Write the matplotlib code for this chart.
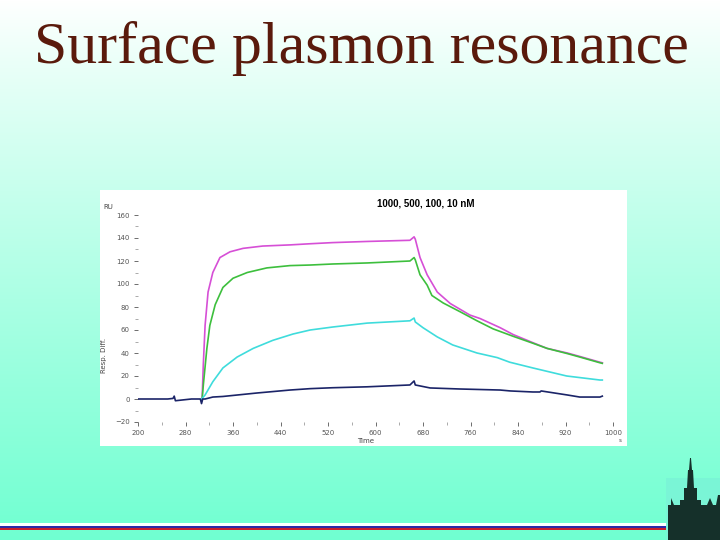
import numpy as np
import matplotlib.pyplot as plt
from matplotlib.patches import Rectangle, Polygon

W, H = 720, 540

# sensorgram curves (time, RU)
t_1000 = [308, 310, 313, 318, 326, 338, 355, 377, 410, 456, 490, 528, 586, 658, 665,
          667, 675, 687, 704, 726, 759, 776, 810, 832, 865, 889, 923, 944, 978, 982]
ru_1000 = [0, 30, 64, 93, 110, 123, 128, 131, 133, 134, 135, 136, 137, 138, 141,
           139, 123, 108, 93, 83, 73, 70, 62, 56, 49, 44, 40, 37, 32, 31.5]

t_500 = [308, 310, 316, 321, 330, 343, 360, 384, 417, 456, 490, 528, 586, 658, 665,
         667, 675, 687, 695, 714, 742, 771, 798, 832, 865, 889, 923, 944, 978, 982]
ru_500 = [0, 12, 44, 64, 82, 97, 105, 110, 114, 116, 116.5, 117.4, 118.3, 120, 123,
          121, 108, 99, 90, 83.5, 76, 68, 61, 54.5, 48.5, 44, 39.5, 36.5, 31.5, 31]

t_100 = [307, 313, 326, 343, 367, 394, 427, 461, 490, 528, 586, 658, 665, 667, 680,
         704, 730, 771, 805, 826, 865, 922, 978, 982]
ru_100 = [0, 3.5, 15, 27, 36.5, 44, 51, 56.5, 60, 62.6, 66, 68, 70.4, 67, 62,
          54, 47, 40, 36, 32, 27, 20, 16.5, 16.5]

t_10 = [200, 250, 259, 261, 263, 290, 305, 307, 309, 313, 326, 343, 400, 456, 490,
        528, 586, 658, 665, 667, 692, 742, 810, 827, 865, 877, 879, 923, 944, 978, 982]
ru_10 = [0, 0, 0.5, 2.5, -1.5, 0, 0, -4, 0, 0, 1.7, 2.2, 5.2, 7.8, 9.0,
         9.8, 10.6, 12.2, 15.7, 12.2, 9.6, 8.7, 7.8, 7.0, 6.1, 6.1, 7.0, 3.5, 1.7, 1.7, 2.5]

curves = [(t_1000, ru_1000, '#d64fd6'), (t_500, ru_500, '#3dbf3d'),
          (t_100, ru_100, '#3fdcdc'), (t_10, ru_10, '#1b2468')]

y_ticks = list(range(-20, 161, 20))
x_ticks = list(range(200, 1001, 80))


def fx(px):
    return px / W


def fy(py):
    return 1 - py / H


fig = plt.figure(figsize=(7.2, 5.4), dpi=100)

# slide background: white at top to aquamarine at bottom
bg = fig.add_axes([0, 0, 1, 1])
g = np.linspace(0, 1, 300)[:, None, None]
top = np.array([1.0, 1.0, 1.0])
bot = np.array([0.44, 1.0, 0.82])
img = top + (bot - top) * g ** 0.9
bg.imshow(img, aspect='auto', extent=[0, 1, 0, 1], origin='upper')
bg.set_xlim(0, 1)
bg.set_ylim(0, 1)
bg.axis('off')

# flag stripes at the bottom
bg.add_patch(Rectangle((0, fy(526)), fx(668), 3 / H, color='white', lw=0))
bg.add_patch(Rectangle((0, fy(528)), fx(668), 2 / H, color='#2a2aa8', lw=0))
bg.add_patch(Rectangle((0, fy(530)), fx(668), 2 / H, color='#c81e2a', lw=0))

# university building logo (rough silhouette)
bg.add_patch(Rectangle((fx(666), 0), fx(54), fy(478), color='#7af5d6', lw=0))
sil = [(668, 540), (668, 505), (671, 505), (671, 498), (674, 505), (680, 505), (680, 500),
       (684, 500), (684, 488), (687, 488), (688, 470), (689, 470), (690, 458), (691, 458),
       (692, 470), (693, 470), (694, 488), (697, 488), (697, 500), (701, 500), (701, 505),
       (707, 505), (710, 498), (713, 505), (716, 505), (718, 495), (720, 495), (720, 540)]
bg.add_patch(Polygon([(fx(a), fy(b)) for a, b in sil], closed=True, color='#15302a', lw=0))

# white panel behind the chart
bg.add_patch(Rectangle((fx(100), fy(446)), fx(527), 256 / H, color='white', lw=0))

fig.text(fx(361), fy(63), 'Surface plasmon resonance', family='Liberation Serif',
         fontsize=43, color='#5a1a0c', ha='center', va='baseline')

ax = fig.add_axes([fx(138), fy(422), fx(475), 207 / H])
ax.patch.set_alpha(0)
for t, r, c in curves:
    ax.plot(t, r, color=c, lw=1.2)
ax.set_xlim(200, 1000)
ax.set_ylim(-20, 160)
for s in ax.spines.values():
    s.set_visible(False)
ax.set_xticks(x_ticks)
ax.set_yticks(y_ticks)
ax.set_xticks(list(range(240, 1000, 80)), minor=True)
ax.set_yticks(list(range(-10, 160, 20)), minor=True)
ax.tick_params(labelsize=5, colors='#555555', length=3, width=0.6, pad=3)
ax.tick_params(which='minor', length=2, width=0.5, colors='#888888')

fig.text(fx(103), fy(207), 'RU', fontsize=5, color='#444444', ha='left', va='center')
fig.text(fx(104), fy(355), 'Resp. Diff.', fontsize=5, color='#444444', rotation=90,
         ha='center', va='center')
fig.text(fx(366), fy(441), 'Time', fontsize=5, color='#444444', ha='center', va='center')
fig.text(fx(620), fy(441), 's', fontsize=4, color='#444444', ha='center', va='center')
fig.text(fx(426), fy(204), '1000, 500, 100, 10 nM', family='Liberation Sans',
         fontweight='bold', fontsize=7, color='black', ha='center', va='center')

fig.savefig('out.png', dpi=100)
